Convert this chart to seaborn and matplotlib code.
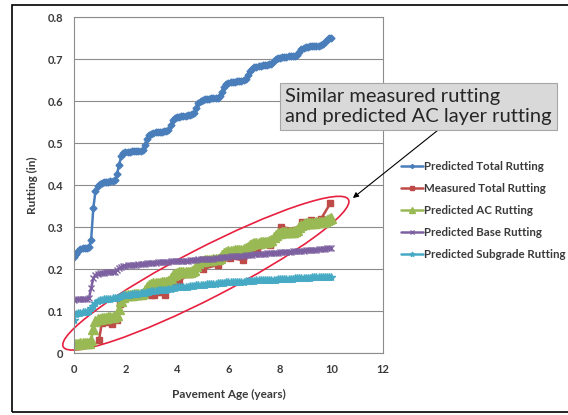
import numpy as np
import pandas as pd
import seaborn as sns
import matplotlib.pyplot as plt
from matplotlib.patches import Ellipse, Rectangle
from matplotlib.transforms import IdentityTransform

# monthly predictions, 0 to 10 years
months = np.arange(121)
age = months / 12

pred_total = [
    0.228, 0.236, 0.243, 0.247, 0.249, 0.250, 0.250, 0.252, 0.270, 0.345, 0.385, 0.398,
    0.402, 0.405, 0.406, 0.407, 0.408, 0.409, 0.410, 0.412, 0.425, 0.448, 0.468, 0.476,
    0.478, 0.479, 0.479, 0.480, 0.480, 0.481, 0.481, 0.482, 0.484, 0.495, 0.510, 0.519,
    0.522, 0.524, 0.525, 0.525, 0.526, 0.527, 0.528, 0.529, 0.532, 0.543, 0.554, 0.559,
    0.562, 0.563, 0.564, 0.565, 0.565, 0.566, 0.567, 0.568, 0.571, 0.583, 0.595, 0.600,
    0.603, 0.604, 0.605, 0.605, 0.606, 0.606, 0.607, 0.608, 0.611, 0.622, 0.634, 0.640,
    0.643, 0.645, 0.646, 0.646, 0.647, 0.648, 0.648, 0.649, 0.652, 0.662, 0.672, 0.677,
    0.680, 0.682, 0.683, 0.684, 0.685, 0.685, 0.686, 0.687, 0.689, 0.695, 0.700, 0.702,
    0.703, 0.704, 0.705, 0.705, 0.706, 0.706, 0.707, 0.708, 0.710, 0.717, 0.723, 0.726,
    0.728, 0.729, 0.730, 0.730, 0.731, 0.731, 0.732, 0.733, 0.735, 0.741, 0.746, 0.749,
    0.751,
]

pred_ac = [
    0.022, 0.022, 0.022, 0.023, 0.023, 0.023, 0.023, 0.024, 0.030, 0.058, 0.076, 0.080,
    0.082, 0.083, 0.084, 0.084, 0.085, 0.085, 0.086, 0.087, 0.090, 0.105, 0.124, 0.133,
    0.137, 0.138, 0.139, 0.139, 0.140, 0.140, 0.141, 0.141, 0.143, 0.150, 0.158, 0.163,
    0.165, 0.166, 0.166, 0.167, 0.167, 0.168, 0.168, 0.169, 0.171, 0.178, 0.185, 0.189,
    0.191, 0.192, 0.192, 0.193, 0.193, 0.194, 0.194, 0.195, 0.198, 0.206, 0.214, 0.218,
    0.220, 0.221, 0.221, 0.222, 0.222, 0.223, 0.223, 0.224, 0.227, 0.233, 0.239, 0.241,
    0.243, 0.244, 0.244, 0.245, 0.245, 0.246, 0.246, 0.247, 0.249, 0.253, 0.257, 0.260,
    0.262, 0.263, 0.263, 0.264, 0.264, 0.265, 0.265, 0.266, 0.269, 0.276, 0.282, 0.285,
    0.286, 0.287, 0.287, 0.288, 0.288, 0.289, 0.289, 0.290, 0.293, 0.300, 0.305, 0.308,
    0.309, 0.309, 0.310, 0.310, 0.310, 0.311, 0.311, 0.312, 0.313, 0.315, 0.317, 0.319,
    0.321,
]

pred_base = [
    0.127, 0.128, 0.128, 0.128, 0.129, 0.129, 0.129, 0.131, 0.155, 0.178, 0.186, 0.189,
    0.190, 0.191, 0.191, 0.192, 0.192, 0.193, 0.193, 0.194, 0.197, 0.202, 0.205, 0.207,
    0.208, 0.209, 0.209, 0.210, 0.210, 0.210, 0.211, 0.211, 0.212, 0.213, 0.214, 0.214,
    0.215, 0.215, 0.215, 0.216, 0.216, 0.216, 0.216, 0.217, 0.217, 0.218, 0.218, 0.218,
    0.219, 0.219, 0.219, 0.220, 0.220, 0.220, 0.221, 0.221, 0.222, 0.222, 0.223, 0.223,
    0.224, 0.224, 0.224, 0.225, 0.225, 0.225, 0.226, 0.226, 0.227, 0.228, 0.228, 0.229,
    0.229, 0.230, 0.230, 0.230, 0.231, 0.231, 0.231, 0.232, 0.233, 0.233, 0.234, 0.234,
    0.235, 0.235, 0.235, 0.236, 0.236, 0.236, 0.237, 0.237, 0.238, 0.238, 0.239, 0.239,
    0.240, 0.240, 0.240, 0.241, 0.241, 0.241, 0.242, 0.242, 0.243, 0.243, 0.244, 0.244,
    0.245, 0.245, 0.245, 0.246, 0.246, 0.246, 0.247, 0.247, 0.248, 0.248, 0.249, 0.249,
    0.250,
]

pred_subgrade = [
    0.078, 0.092, 0.095, 0.096, 0.097, 0.097, 0.098, 0.099, 0.106, 0.113, 0.119, 0.123,
    0.126, 0.127, 0.128, 0.128, 0.129, 0.129, 0.130, 0.130, 0.132, 0.134, 0.136, 0.137,
    0.138, 0.139, 0.139, 0.140, 0.140, 0.141, 0.141, 0.142, 0.143, 0.144, 0.145, 0.146,
    0.147, 0.148, 0.148, 0.149, 0.149, 0.150, 0.150, 0.151, 0.152, 0.153, 0.154, 0.155,
    0.156, 0.156, 0.157, 0.157, 0.158, 0.158, 0.159, 0.159, 0.160, 0.161, 0.161, 0.162,
    0.163, 0.163, 0.164, 0.164, 0.165, 0.165, 0.165, 0.166, 0.166, 0.167, 0.167, 0.168,
    0.168, 0.168, 0.169, 0.169, 0.169, 0.170, 0.170, 0.170, 0.171, 0.171, 0.172, 0.172,
    0.172, 0.173, 0.173, 0.173, 0.174, 0.174, 0.174, 0.174, 0.175, 0.175, 0.175, 0.176,
    0.176, 0.176, 0.176, 0.177, 0.177, 0.177, 0.177, 0.178, 0.178, 0.178, 0.178, 0.179,
    0.179, 0.179, 0.179, 0.180, 0.180, 0.180, 0.180, 0.181, 0.181, 0.181, 0.181, 0.182,
    0.182,
]

# field measurements (irregular survey dates)
meas_age = [0.97, 1.08, 1.27, 1.46, 1.66, 1.79, 1.95, 2.5, 3.0, 3.1, 3.55, 3.93, 4.08,
            4.5, 5.0, 5.6, 6.07, 6.55, 7.1, 7.6, 7.92, 8.05, 8.6, 8.85, 9.2, 9.6, 9.95]
meas_total = [0.031, 0.071, 0.074, 0.070, 0.078, 0.116, 0.132, 0.135, 0.137, 0.138, 0.138,
              0.170, 0.172, 0.188, 0.200, 0.210, 0.226, 0.221, 0.245, 0.257, 0.282, 0.300,
              0.294, 0.313, 0.317, 0.320, 0.356]

series = [
    ("Predicted Total Rutting", age, pred_total, "#4a7ebb", "D", 3.5),
    ("Measured Total Rutting", meas_age, meas_total, "#be4b48", "s", 4.5),
    ("Predicted AC Rutting", age, pred_ac, "#98b954", "^", 7),
    ("Predicted Base Rutting", age, pred_base, "#7d60a0", "x", 4.5),
    ("Predicted Subgrade Rutting", age, pred_subgrade, "#46aac5", "*", 6),
]

sns.set_style("white")
plt.rcParams["font.family"] = ["Lato", "DejaVu Sans"]
text_color = "#3a3a3a"

fig = plt.figure(figsize=(5.68, 4.15), dpi=100)
ax = fig.add_axes([74 / 568, 1 - 353 / 415, (383 - 74) / 568, (353 - 17) / 415])

for name, x, y, color, mk, ms in series:
    df = pd.DataFrame({"age": x, "rut": y})
    sns.lineplot(data=df, x="age", y="rut", ax=ax, color=color, marker=mk,
                 markersize=ms, markeredgecolor=color, markeredgewidth=1,
                 linewidth=1.8, label=name, sort=False)

ax.set_xlim(0, 12)
ax.set_ylim(0, 0.8)
ax.set_xticks(np.arange(0, 13, 2))
ax.set_yticks(np.arange(0, 0.81, 0.1))
ax.set_xticklabels([str(v) for v in range(0, 13, 2)])
ax.set_yticklabels(["0"] + [f"{v:.1f}" for v in np.arange(0.1, 0.81, 0.1)])
ax.yaxis.grid(True, color="#8c8c8c", linewidth=0.8)
ax.xaxis.grid(False)
for s in ax.spines.values():
    s.set_color("#8c8c8c")
    s.set_linewidth(0.8)
ax.tick_params(axis="both", length=3, color="#8c8c8c", labelsize=8,
               labelcolor=text_color, pad=5)
for lab in ax.get_xticklabels() + ax.get_yticklabels():
    lab.set_fontweight("bold")

ax.set_xlabel("Pavement Age (years)", fontsize=8.5, fontweight="bold", color=text_color)
ax.set_ylabel("Rutting (in)", fontsize=8.5, fontweight="bold", color=text_color)
ax.xaxis.set_label_coords(0.5, (353 - 389) / 336)
ax.yaxis.set_label_coords((38 - 74) / 309, 0.5)

handles, labels = ax.get_legend_handles_labels()
ax.get_legend().remove()
fig.legend(handles, labels, loc="upper left", bbox_to_anchor=(401 / 568, 1 - 161 / 415),
           frameon=False, handlelength=1.9, handletextpad=0.1,
           labelspacing=0.95, borderpad=0, borderaxespad=0, markerscale=0.6,
           prop={"weight": "bold", "size": 8.3})
for t in fig.legends[0].get_texts():
    t.set_color(text_color)

# highlight ellipse around measured / AC rutting
cx, cy = ax.transData.transform((5.12, 0.19))
ax.add_patch(Ellipse((cx, cy), 321, 50, angle=27.3, transform=IdentityTransform(),
                     fill=False, edgecolor="#e8203f", linewidth=1.2, clip_on=False))

ax.annotate("Similar measured rutting\nand predicted AC layer rutting",
            xy=(10.83, 0.369), xycoords="data",
            xytext=(285, 415 - 106.5), textcoords="figure pixels",
            ha="left", va="center", fontsize=14.5, color="#262626", linespacing=1.15,
            bbox=dict(boxstyle="square,pad=0.25", fc="#d9d9d9", ec="#a6a6a6", lw=0.8),
            arrowprops=dict(arrowstyle="-|>", color="black", lw=0.8,
                            relpos=(0.6, 0), shrinkA=0, shrinkB=0,
                            mutation_scale=8))

# outer chart border (right edge falls outside the image)
fig.patches.append(Rectangle((12 / 568, 1 - 412 / 415), 570 / 568, 407 / 415,
                             transform=fig.transFigure, fill=False,
                             edgecolor="black", linewidth=1.2))

fig.savefig("out.png", dpi=100)
